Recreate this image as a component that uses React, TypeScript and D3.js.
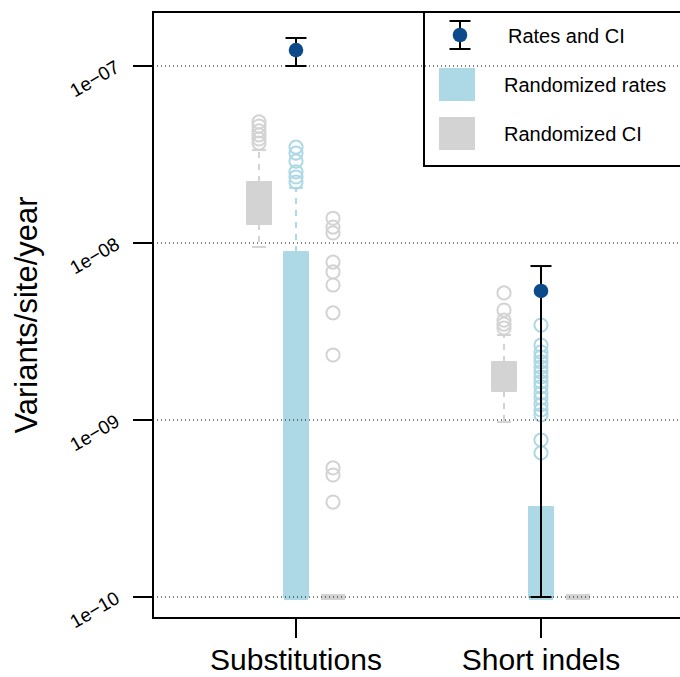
import React from 'react';
import * as d3 from 'd3';

// categories
const groups = ['Substitutions', 'Short indels'];
const yTicks = [1e-10, 1e-9, 1e-8, 1e-7];
const yTickLabels = ['1e\u221210', '1e\u221209', '1e\u221208', '1e\u221207'];

// observed rates and CI
const rateEst = [1.23e-7, 5.36e-9];
const rateUpper = [1.44e-7, 7.41e-9];
const rateLower = [1.0e-7, 1e-10];

// boxplot stats: [lowWhisker, q1, median, q3, highWhisker]
const ciUpperStats = [
  [9.5e-9, 1.28e-8, 1.68e-8, 2.21e-8, 3.35e-8],
  [9.75e-10, 1.46e-9, 1.76e-9, 2.13e-9, 3.02e-9],
];
const ratesStats = [
  [1e-10, 1e-10, 1e-10, 8.89e-9, 2.05e-8],
  [1e-10, 1e-10, 1e-10, 3.22e-10, 3.22e-10],
];
const ciLowerStats = [
  [1e-10, 1e-10, 1e-10, 1e-10, 1e-10],
  [1e-10, 1e-10, 1e-10, 1e-10, 1e-10],
];

// outliers
const ciUpperOutliers = [
  [4.83e-8, 4.58e-8, 4.3e-8, 4.08e-8, 3.87e-8, 3.67e-8],
  [5.22e-9, 4.18e-9, 3.67e-9, 3.48e-9, 3.31e-9],
];
const ratesOutliers = [
  [3.48e-8, 3.22e-8, 2.9e-8, 2.52e-8, 2.36e-8, 2.21e-8],
  [3.44e-9, 2.65e-9, 2.42e-9, 2.27e-9, 2.13e-9, 1.99e-9, 1.87e-9, 1.75e-9, 1.64e-9,
    1.54e-9, 1.42e-9, 1.33e-9, 1.22e-9, 1.14e-9, 1.07e-9, 7.71e-10, 6.52e-10],
];
const ciLowerOutliers = [
  [1.38e-8, 1.23e-8, 1.14e-8, 7.8e-9, 6.86e-9, 5.79e-9, 4.03e-9, 2.33e-9, 5.36e-10, 4.89e-10, 3.44e-10],
  [],
];

const legendLabels = ['Rates and CI', 'Randomized rates', 'Randomized CI'];

const BLUE = '#add8e6';
const GRAY = '#d3d3d3';
const DARK = '#0c4a8a';
const FONT = '"Liberation Sans", Arial, Helvetica, sans-serif';

const W = 680;
const H = 677;
const plot = { left: 153, right: 710, top: 12, bottom: 618 };

const y = d3.scaleLog().domain([1e-10, 1e-7]).range([597, 66]);
const x = d3.scalePoint<string>().domain(groups).range([296, 541]);
const inner = d3.scalePoint<string>().domain(['ciUpper', 'rates', 'ciLower']).range([-37, 37]);
const boxW = 24;

type BoxProps = { cx: number; stats: number[]; outliers: number[]; color: string };

const Box = ({ cx, stats, outliers, color }: BoxProps) => {
  const [lo, q1, med, q3, hi] = stats;
  return (
    <g>
      <line x1={cx} x2={cx} y1={y(q3)} y2={y(hi)} stroke={color} strokeWidth={2} strokeDasharray="6,6" />
      <line x1={cx} x2={cx} y1={y(q1)} y2={y(lo)} stroke={color} strokeWidth={2} strokeDasharray="6,6" />
      <line x1={cx - boxW / 4 - 1} x2={cx + boxW / 4 + 1} y1={y(hi)} y2={y(hi)} stroke={color} strokeWidth={2} />
      <line x1={cx - boxW / 4 - 1} x2={cx + boxW / 4 + 1} y1={y(lo)} y2={y(lo)} stroke={color} strokeWidth={2} />
      <rect x={cx - boxW / 2} y={y(q3)} width={boxW} height={y(q1) - y(q3)} fill={color} stroke={color} strokeWidth={2} strokeLinejoin="round" />
      <line x1={cx - boxW / 2} x2={cx + boxW / 2} y1={y(med)} y2={y(med)} stroke={color} strokeWidth={6} />
      {outliers.map((v, i) => (
        <circle key={i} cx={cx} cy={y(v)} r={6.6} fill="none" stroke={color} strokeWidth={2} />
      ))}
    </g>
  );
};

export default function App() {
  return (
    <svg width={W} height={H} style={{ position: 'absolute', left: 0, top: 0 }} fontFamily={FONT}>
      <rect width={W} height={H} fill="white" />

      {groups.map((g, i) => (
        <g key={g}>
          <Box cx={x(g)! + inner('ciUpper')!} stats={ciUpperStats[i]} outliers={ciUpperOutliers[i]} color={GRAY} />
          <Box cx={x(g)! + inner('rates')!} stats={ratesStats[i]} outliers={ratesOutliers[i]} color={BLUE} />
          <Box cx={x(g)! + inner('ciLower')!} stats={ciLowerStats[i]} outliers={ciLowerOutliers[i]} color={GRAY} />
        </g>
      ))}

      {/* dotted grid */}
      {yTicks.map((t) => (
        <line key={t} x1={plot.left} x2={plot.right} y1={y(t)} y2={y(t)} stroke="black" strokeWidth={1} strokeDasharray="1,3" />
      ))}

      {/* rates and CI */}
      {groups.map((g, i) => {
        const cx = x(g)!;
        return (
          <g key={g}>
            <line x1={cx} x2={cx} y1={y(rateUpper[i])} y2={y(rateLower[i])} stroke="black" strokeWidth={2} />
            <line x1={cx - 10.5} x2={cx + 10.5} y1={y(rateUpper[i])} y2={y(rateUpper[i])} stroke="black" strokeWidth={2} />
            <line x1={cx - 10.5} x2={cx + 10.5} y1={y(rateLower[i])} y2={y(rateLower[i])} stroke="black" strokeWidth={2} />
            <circle cx={cx} cy={y(rateEst[i])} r={7.3} fill={DARK} />
          </g>
        );
      })}

      {/* frame */}
      <rect x={plot.left} y={plot.top} width={plot.right - plot.left} height={plot.bottom - plot.top} fill="none" stroke="black" strokeWidth={2} />

      {/* y axis */}
      {yTicks.map((t, i) => (
        <g key={t}>
          <line x1={plot.left - 20} x2={plot.left} y1={y(t)} y2={y(t)} stroke="black" strokeWidth={2} />
          <text transform={`translate(${plot.left - 32},${y(t) + 5}) rotate(-30)`} textAnchor="end" fontSize={19}>
            {yTickLabels[i]}
          </text>
        </g>
      ))}
      <text transform={`translate(37,${(plot.top + plot.bottom) / 2}) rotate(-90)`} textAnchor="middle" fontSize={31}>
        Variants/site/year
      </text>

      {/* x axis */}
      {groups.map((g) => (
        <g key={g}>
          <line x1={x(g)} x2={x(g)} y1={plot.bottom} y2={plot.bottom + 20} stroke="black" strokeWidth={2} />
          <text x={x(g)} y={670} textAnchor="middle" fontSize={30}>{g}</text>
        </g>
      ))}

      {/* legend */}
      <g>
        <rect x={424} y={plot.top} width={300} height={154} fill="none" stroke="black" strokeWidth={2} />
        <line x1={460} x2={460} y1={21} y2={49} stroke="black" strokeWidth={2} />
        <line x1={449.5} x2={470.5} y1={21} y2={21} stroke="black" strokeWidth={2} />
        <line x1={449.5} x2={470.5} y1={49} y2={49} stroke="black" strokeWidth={2} />
        <circle cx={460} cy={35} r={7.3} fill={DARK} />
        <rect x={439} y={68} width={36} height={33} fill={BLUE} />
        <rect x={439} y={117} width={36} height={33} fill={GRAY} />
        <text x={508} y={43} fontSize={20}>{legendLabels[0]}</text>
        <text x={504} y={92} fontSize={20}>{legendLabels[1]}</text>
        <text x={504} y={141} fontSize={20}>{legendLabels[2]}</text>
      </g>
    </svg>
  );
}
